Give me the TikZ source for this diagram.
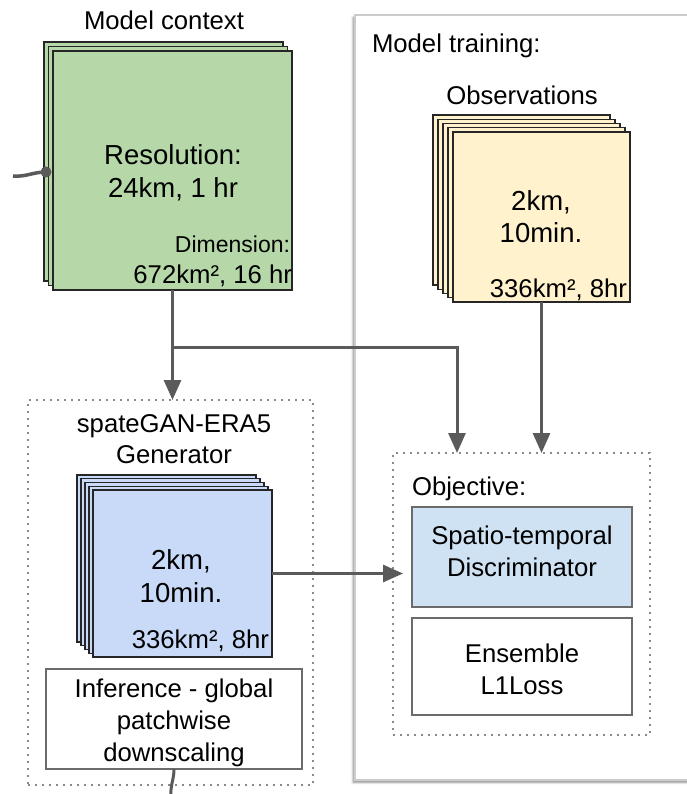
\documentclass[tikz,border=0pt]{standalone}
\usepackage{fontspec}
\setmainfont{Liberation Sans}
\usetikzlibrary{arrows.meta,shadows.blur}

\definecolor{ctxgreen}{HTML}{B6D7A8}
\definecolor{obsyellow}{HTML}{FFF2CC}
\definecolor{genblue}{HTML}{C9DAF8}
\definecolor{discblue}{HTML}{CFE2F3}
\definecolor{edgedark}{HTML}{262626}
\definecolor{wire}{HTML}{5A5A5A}
\definecolor{boxgray}{HTML}{6B6B6B}
\definecolor{dotgray}{HTML}{8A8A8A}

\begin{document}
\begin{tikzpicture}[x=1pt,y=-1pt,
  every node/.style={font=\fontsize{25.7}{32}\selectfont, inner sep=0pt, outer sep=0pt},
  sheet/.style={draw=edgedark, line width=1.3pt, fill=#1, anchor=north west},
  framebox/.style={draw=boxgray, line width=1.5pt, anchor=north west},
  dotbox/.style={draw=dotgray, line width=1.6pt, dash pattern=on 1.6pt off 5.4pt, anchor=north west},
  wireline/.style={draw=wire, line width=3pt},
  arrowline/.style={wireline, -{Triangle[length=20pt,width=17pt]}},
  label/.style={anchor=base, align=center},
  bigtext/.style={font=\fontsize{27.5}{#1}\selectfont}
]
\useasboundingbox (0,0) rectangle (686,794);

% training panel
\node[anchor=north west, fill=white, draw=gray!40, line width=1.8pt,
      minimum width=370pt, minimum height=765pt,
      blur shadow={shadow xshift=-2pt, shadow yshift=-2.5pt, shadow blur steps=6, shadow opacity=45}]
      (train) at (355,15) {};
\node[anchor=base west] (traintitle) at (372,53) {Model training:};

% model context stack
\foreach \i in {0,1,2}
  \node[sheet=ctxgreen, minimum width=239pt, minimum height=239pt] (ctx\i) at ({44+4.5*\i},{42+4.5*\i}) {};
\node[label] (ctxtitle) at (164,30) {Model context};
\node[label, bigtext=33] (ctxres) at (173,198) {Resolution:\\24km, 1 hr};
\node[anchor=base east, font=\fontsize{23}{28}\selectfont] (ctxdim) at (290,252) {Dimension:};
\node[anchor=base east] (ctxsize) at (292,283) {672km², 16 hr};

% observations stack
\foreach \i in {0,...,4}
  \node[sheet=obsyellow, minimum width=177pt, minimum height=170pt] (obs\i) at ({433+5*\i},{115+4.25*\i}) {};
\node[label] (obstitle) at (522,105) {Observations};
\node[label, bigtext=32] (obsres) at (541,242) {2km,\\10min.};
\node[anchor=base east] (obssize) at (627,297) {336km², 8hr};

% generator
\node[dotbox, minimum width=285pt, minimum height=385pt] (gen) at (28,400) {};
\node[label, font=\fontsize{25.7}{31}\selectfont] (gentitle) at (174,463) {spateGAN-ERA5\\Generator};
\foreach \i in {0,...,4}
  \node[sheet=genblue, minimum width=179pt, minimum height=167pt] (gen\i) at ({77+4*\i},{475+3.75*\i}) {};
\node[label, bigtext=33] (genres) at (181,602) {2km,\\10min.};
\node[anchor=base east] (gensize) at (269,648) {336km², 8hr};
\node[framebox, minimum width=256pt, minimum height=100pt] (inf) at (46,669) {};
\node[label] (inftext) at (174,761) {Inference - global\\patchwise\\downscaling};

% objective
\node[dotbox, minimum width=257pt, minimum height=282pt] (obj) at (393,453) {};
\node[anchor=base west] (objtitle) at (412,495) {Objective:};
\node[framebox, fill=discblue, minimum width=220pt, minimum height=100pt] (disc) at (412,507) {};
\node[label] (disctext) at (522,576) {Spatio-temporal\\Discriminator};
\node[framebox, minimum width=220pt, minimum height=97pt] (ens) at (412,618) {};
\node[label] (enstext) at (522,694) {Ensemble\\L1Loss};

% connectors
\coordinate (inL) at (13,176);
\coordinate (dock) at (46,172);
\draw[wireline, line width=3.5pt] (inL) to[out=-5,in=180] (dock);
\fill[wire] (dock) circle (5.5pt);

\draw[arrowline] (ctx2.south) -- (ctx2.south |- gen.north);
\coordinate (split) at (172.5,347);
\draw[arrowline] (split) -| ([xshift=-64.5pt]obj.north);
\draw[arrowline] (obs4.south) -- (obs4.south |- obj.north);
\draw[arrowline, shorten >=9pt] (gen4.east) -- (gen4.east -| disc.west);

\coordinate (outB) at (171,796);
\draw[wireline] (inf.south) to[out=-90,in=95] (outB);
\end{tikzpicture}
\end{document}
